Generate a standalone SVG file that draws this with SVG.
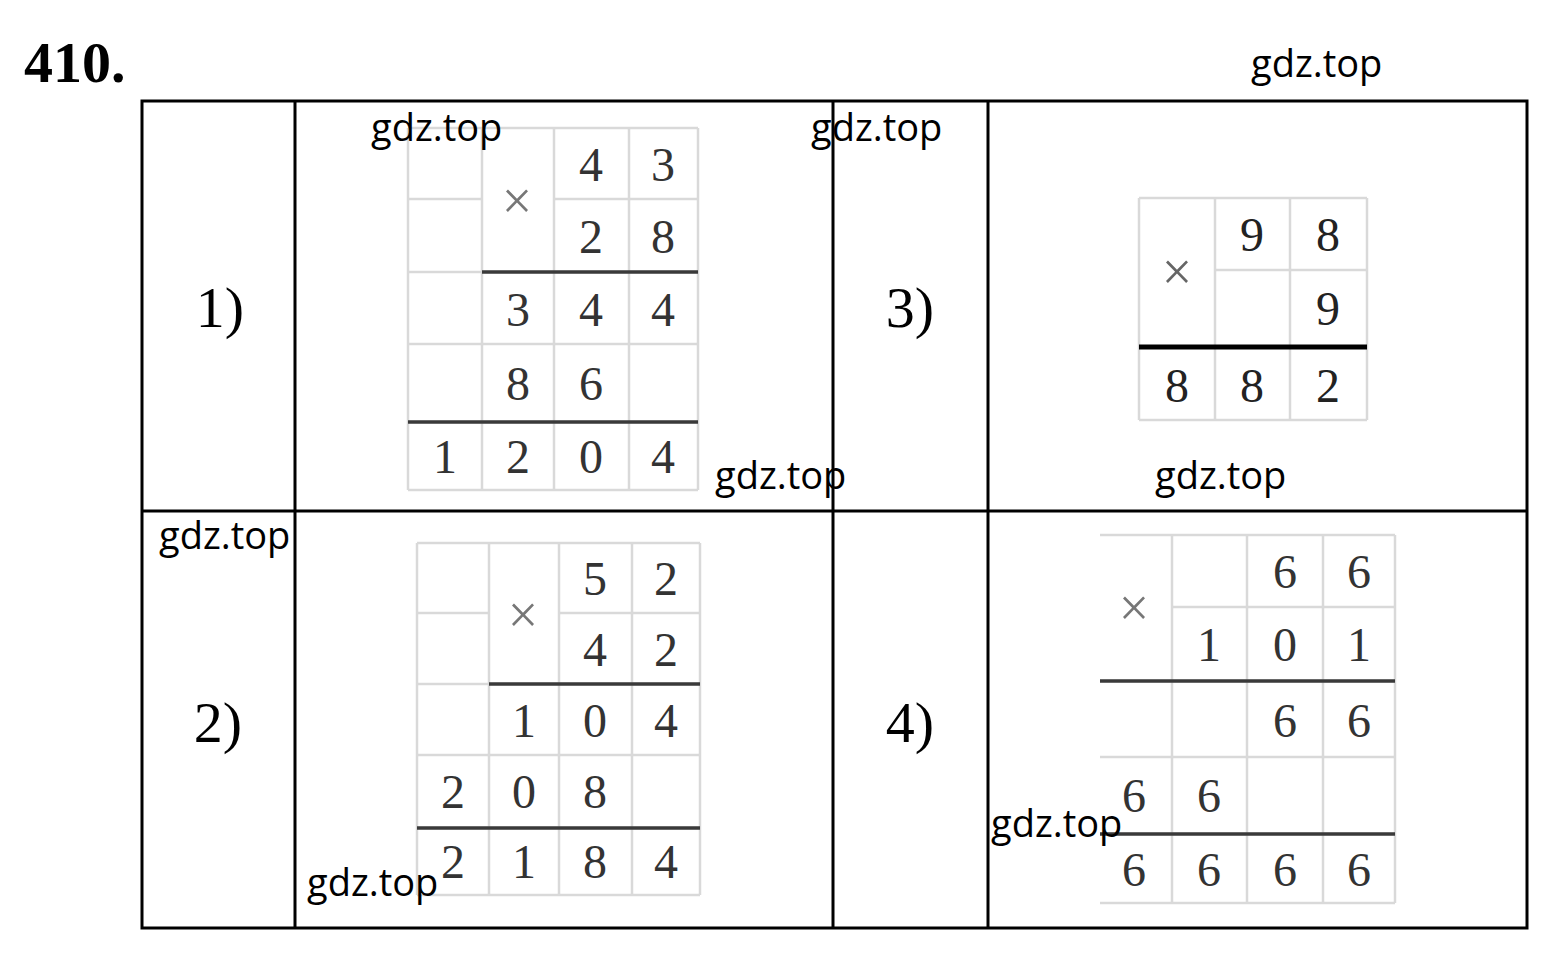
<svg xmlns="http://www.w3.org/2000/svg" width="1560" height="964" viewBox="0 0 1560 964">
<style>
.tb{stroke:#000;stroke-width:3;fill:none}
.g{stroke:#d9d9d9;stroke-width:2.5;fill:none}
.th{stroke:#3a3a3a;stroke-width:3.5}
.thb{stroke:#000;stroke-width:5}
.d{font-family:"Liberation Serif",serif;font-size:48px;fill:#333;text-anchor:middle}
.x{font-family:"Liberation Serif",serif;font-size:54px;fill:#777;text-anchor:middle}
.lab{font-family:"Liberation Serif",serif;font-size:58px;fill:#000;text-anchor:middle}
.wm{font-family:"Open Sans",sans-serif;font-size:38px;fill:#000}
</style>
<rect width="1560" height="964" fill="#fff"/>
<text x="24" y="82" font-family="Liberation Serif,serif" font-weight="bold" font-size="58" fill="#000">410.</text>
<g id="table">
<rect class="tb" x="142" y="101" width="1385" height="827"/>
<line class="tb" x1="295" y1="101" x2="295" y2="928"/>
<line class="tb" x1="833" y1="101" x2="833" y2="928"/>
<line class="tb" x1="988" y1="101" x2="988" y2="928"/>
<line class="tb" x1="142" y1="511" x2="1527" y2="511"/>
</g>
<g id="label1"><text class="lab" x="220" y="327">1)</text></g>
<g id="label2"><text class="lab" x="218" y="742">2)</text></g>
<g id="label3"><text class="lab" x="910" y="327">3)</text></g>
<g id="label4"><text class="lab" x="910" y="742">4)</text></g>
<g id="grid1">
<path class="g" d="M408 128V490M482 128V490M554 128V490M629 128V490M698 128V490M408 128H698M408 199H482M554 199H698M408 272H698M408 344H698M408 422H698M408 490H698"/>
<line class="th" x1="482" y1="272" x2="698" y2="272"/>
<line class="th" x1="408" y1="422" x2="698" y2="422"/>
<text class="x" x="517" y="219">×</text>
<text class="d" x="591" y="181">4</text><text class="d" x="663" y="181">3</text>
<text class="d" x="591" y="253">2</text><text class="d" x="663" y="253">8</text>
<text class="d" x="518" y="326">3</text><text class="d" x="591" y="326">4</text><text class="d" x="663" y="326">4</text>
<text class="d" x="518" y="400">8</text><text class="d" x="591" y="400">6</text>
<text class="d" x="445" y="473">1</text><text class="d" x="518" y="473">2</text><text class="d" x="591" y="473">0</text><text class="d" x="663" y="473">4</text>
</g>
<g id="grid2">
<path class="g" d="M417 543V895M489 543V895M559 543V895M632 543V895M700 543V895M417 543H700M417 613H489M559 613H700M417 684H700M417 755H700M417 828H700M417 895H700"/>
<line class="th" x1="489" y1="684" x2="700" y2="684"/>
<line class="th" x1="417" y1="828" x2="700" y2="828"/>
<text class="x" x="523" y="633">×</text>
<text class="d" x="595" y="595">5</text><text class="d" x="666" y="595">2</text>
<text class="d" x="595" y="666">4</text><text class="d" x="666" y="666">2</text>
<text class="d" x="524" y="737">1</text><text class="d" x="595" y="737">0</text><text class="d" x="666" y="737">4</text>
<text class="d" x="453" y="808">2</text><text class="d" x="524" y="808">0</text><text class="d" x="595" y="808">8</text>
<text class="d" x="453" y="878">2</text><text class="d" x="524" y="878">1</text><text class="d" x="595" y="878">8</text><text class="d" x="666" y="878">4</text>
</g>
<g id="grid3">
<path class="g" d="M1139 198V420M1215 198V420M1290 198V420M1367 198V420M1139 198H1367M1215 270H1367M1139 420H1367"/>
<line class="thb" x1="1139" y1="347" x2="1367" y2="347"/>
<text class="x" x="1177" y="290" style="fill:#666">×</text>
<text class="d" x="1252" y="251" style="fill:#222">9</text><text class="d" x="1328" y="251" style="fill:#222">8</text>
<text class="d" x="1328" y="325" style="fill:#222">9</text>
<text class="d" x="1177" y="402" style="fill:#222">8</text><text class="d" x="1252" y="402" style="fill:#222">8</text><text class="d" x="1328" y="402" style="fill:#222">2</text>
</g>
<g id="grid4">
<path class="g" d="M1172 535V903M1247 535V903M1323 535V903M1395 535V903M1100 535H1395M1172 607H1395M1100 681H1395M1100 757H1395M1100 834H1395M1100 903H1395"/>
<line class="th" x1="1100" y1="681" x2="1395" y2="681"/>
<line class="th" x1="1100" y1="834" x2="1395" y2="834"/>
<text class="x" x="1134" y="626">×</text>
<text class="d" x="1285" y="588">6</text><text class="d" x="1359" y="588">6</text>
<text class="d" x="1209" y="661">1</text><text class="d" x="1285" y="661">0</text><text class="d" x="1359" y="661">1</text>
<text class="d" x="1285" y="737">6</text><text class="d" x="1359" y="737">6</text>
<text class="d" x="1134" y="812">6</text><text class="d" x="1209" y="812">6</text>
<text class="d" x="1134" y="886">6</text><text class="d" x="1209" y="886">6</text><text class="d" x="1285" y="886">6</text><text class="d" x="1359" y="886">6</text>
</g>
<g id="watermarks">
<text class="wm" x="1251" y="77">gdz.top</text>
<text class="wm" x="371" y="141">gdz.top</text>
<text class="wm" x="811" y="141">gdz.top</text>
<text class="wm" x="715" y="489">gdz.top</text>
<text class="wm" x="1155" y="489">gdz.top</text>
<text class="wm" x="159" y="549">gdz.top</text>
<text class="wm" x="307" y="896">gdz.top</text>
<text class="wm" x="991" y="837">gdz.top</text>
</g>
</svg>
